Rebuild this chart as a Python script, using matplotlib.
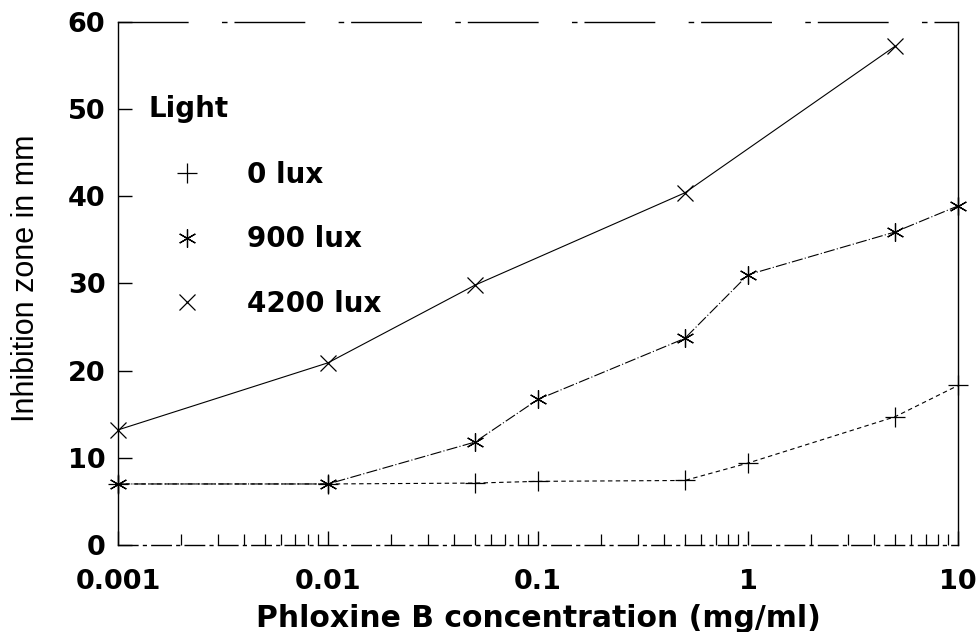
import numpy as np
import matplotlib
matplotlib.use('Agg')
import matplotlib.pyplot as plt
from matplotlib.lines import Line2D
from matplotlib.ticker import FixedLocator, FixedFormatter, LogLocator, NullFormatter

plt.rc('font', family=['DejaVu Sans'])

# concentrations (mg/ml)
conc = [0.001, 0.01, 0.05, 0.1, 0.5, 1, 5, 10]
conc_4200 = [0.001, 0.01, 0.05, 0.5, 5]

# inhibition zone in mm
zone_0 = [7.0, 7.0, 7.1, 7.3, 7.4, 9.4, 14.7, 18.3]
zone_900 = [7.0, 7.0, 11.8, 16.7, 23.7, 31.0, 35.9, 38.9]
zone_4200 = [13.2, 20.9, 29.8, 40.4, 57.2]

xticks = [0.001, 0.01, 0.1, 1, 10]
xticklabels = ['0.001', '0.01', '0.1', '1', '10']
yticks = [0, 10, 20, 30, 40, 50, 60]

star = (6, 2, 0)

fig = plt.figure(figsize=(9.8, 6.32), dpi=100)
ax = fig.add_axes([0.1204, 0.1377, 0.8572, 0.8275])

ax.plot(conc, zone_0, linestyle=(0, (4, 3)), color='k', lw=0.8,
        marker='+', ms=14, mew=0.9, clip_on=False)
ax.plot(conc, zone_900, linestyle=(0, (10, 2, 1, 2)), color='k', lw=0.8,
        marker=star, ms=13, mew=0.9, clip_on=False)
ax.plot(conc_4200, zone_4200, linestyle='-', color='k', lw=0.8,
        marker='x', ms=11, mew=0.9, clip_on=False)

ax.set_xscale('log')
ax.set_xlim(0.001, 10)
ax.set_ylim(0, 60)
ax.xaxis.set_major_locator(FixedLocator(xticks))
ax.xaxis.set_major_formatter(FixedFormatter(xticklabels))
ax.xaxis.set_minor_locator(LogLocator(base=10, subs=np.arange(2, 10)))
ax.xaxis.set_minor_formatter(NullFormatter())
ax.set_yticks(yticks)

ax.tick_params(axis='both', which='major', direction='in', length=10,
               width=1, labelsize=19.5)
ax.tick_params(axis='x', which='minor', direction='in', length=8, width=0.9)
ax.tick_params(axis='y', which='major', pad=9)
ax.tick_params(axis='x', which='major', pad=17)

for t in ax.get_xticklabels() + ax.get_yticklabels():
    t.set_fontweight('bold')

ax.spines['top'].set_linestyle((0, (50, 25, 3, 6)))
ax.spines['bottom'].set_linestyle((0, (14, 4, 2, 4)))
for s in ax.spines.values():
    s.set_linewidth(1.0)

ax.set_xlabel('Phloxine B concentration (mg/ml)', fontsize=21.5,
              fontweight='bold', labelpad=7)
ax.set_ylabel('Inhibition zone in mm', fontsize=22,
              family=['Liberation Sans', 'DejaVu Sans'])
ax.yaxis.set_label_coords(-0.092, 0.51)

handles = [
    Line2D([], [], color='k', linestyle='none', marker='+', ms=14, mew=0.9),
    Line2D([], [], color='k', linestyle='none', marker=star, ms=13, mew=0.9),
    Line2D([], [], color='k', linestyle='none', marker='x', ms=11, mew=0.9),
]
leg = ax.legend(handles, ['0 lux', '900 lux', '4200 lux'], title='Light',
                loc='upper left', bbox_to_anchor=(0.036, 0.86), frameon=False,
                prop={'size': 20, 'weight': 'bold'},
                title_fontproperties={'size': 20, 'weight': 'bold'},
                handlelength=2.8, handletextpad=0.75, labelspacing=1.32,
                borderpad=0.0, borderaxespad=0.0, alignment='left')
leg._legend_box.sep = 27

fig.savefig('out.png', dpi=100)
